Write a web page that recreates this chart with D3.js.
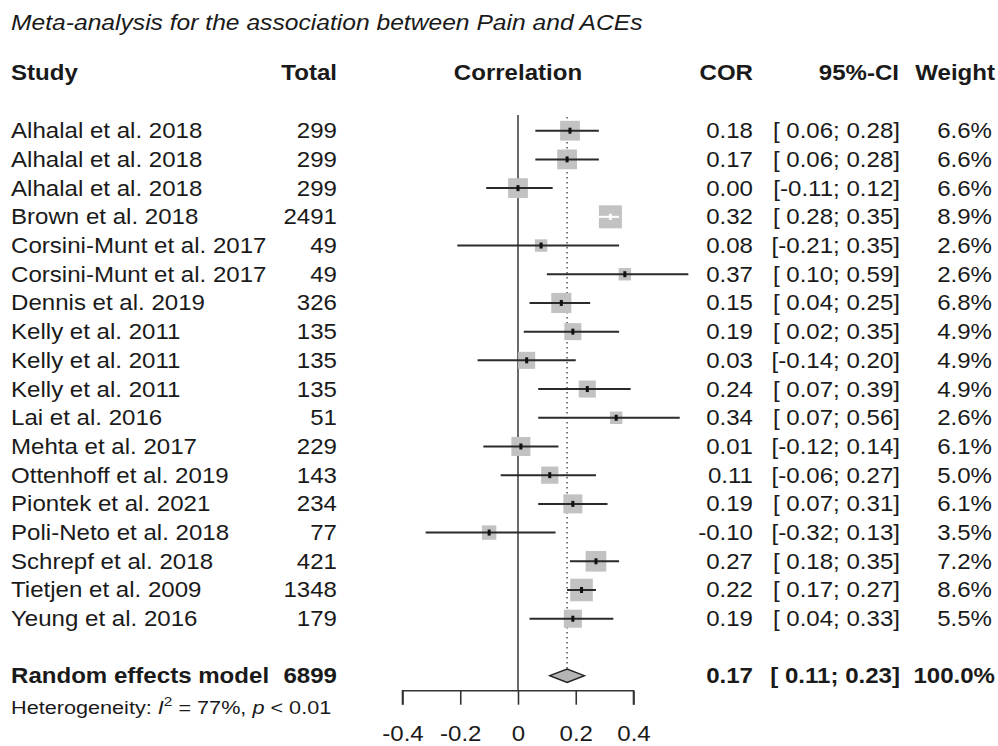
<!DOCTYPE html>
<html><head><meta charset="utf-8">
<script src="https://cdn.jsdelivr.net/npm/d3@7"></script>
<style>body{margin:0;background:#fff}svg{display:block}</style>
</head><body>
<svg id="c" width="998" height="746"></svg>
<script>
const studies = ["Alhalal et al. 2018","Alhalal et al. 2018","Alhalal et al. 2018","Brown et al. 2018","Corsini-Munt et al. 2017","Corsini-Munt et al. 2017","Dennis et al. 2019","Kelly et al. 2011","Kelly et al. 2011","Kelly et al. 2011","Lai et al. 2016","Mehta et al. 2017","Ottenhoff et al. 2019","Piontek et al. 2021","Poli-Neto et al. 2018","Schrepf et al. 2018","Tietjen et al. 2009","Yeung et al. 2016"];
const totals = [299,299,299,2491,49,49,326,135,135,135,51,229,143,234,77,421,1348,179];
const cor = [0.18,0.17,0.00,0.32,0.08,0.37,0.15,0.19,0.03,0.24,0.34,0.01,0.11,0.19,-0.10,0.27,0.22,0.19];
const lower = [0.06,0.06,-0.11,0.28,-0.21,0.10,0.04,0.02,-0.14,0.07,0.07,-0.12,-0.06,0.07,-0.32,0.18,0.17,0.04];
const upper = [0.28,0.28,0.12,0.35,0.35,0.59,0.25,0.35,0.20,0.39,0.56,0.14,0.27,0.31,0.13,0.35,0.27,0.33];
const weights = [6.6,6.6,6.6,8.9,2.6,2.6,6.8,4.9,4.9,4.9,2.6,6.1,5.0,6.1,3.5,7.2,8.6,5.5];
const pooled = {label:"Random effects model", total:6899, cor:0.17, lower:0.11, upper:0.23, weight:100.0};
const tickValues = [-0.4,-0.2,0,0.2,0.4];
const tickLabels = ["-0.4","-0.2","0","0.2","0.4"];
const title = "Meta-analysis for the association between Pain and ACEs";

const svg = d3.select("#c");
const FONT = "'Liberation Sans', Arial, Helvetica, sans-serif";
const FS = 21.5, SX = 1.12;
const x = d3.scaleLinear().domain([-0.4,0.4]).range([402.5,633.5]);
const y = d3.scaleLinear().domain([0,17]).range([130.7,618.7]);
const yPooled = 675.7, axisY = 690.7;

function txt(str, xx, yy, anchor, opts={}){
  return svg.append("text")
    .attr("transform",`translate(${xx},${yy}) scale(${opts.sx||SX},1)`)
    .attr("text-anchor",anchor)
    .attr("font-family",FONT)
    .attr("font-size",opts.fs||FS)
    .attr("fill",opts.fill||"#1a1a1a")
    .attr("font-weight",opts.bold?"bold":"normal")
    .attr("font-style",opts.italic?"italic":"normal")
    .text(str);
}
const f2 = v => v.toFixed(2);
const ci = (l,u) => "[" + (l<0?"":" ") + f2(l) + "; " + f2(u) + "]";

// title
txt(title, 11, 30, "start", {italic:true, fs:22});
// headers
const hy = 80;
txt("Study", 11, hy, "start", {bold:true});
txt("Total", 337, hy, "end", {bold:true});
txt("Correlation", 518, hy, "middle", {bold:true});
txt("COR", 753, hy, "end", {bold:true});
txt("95%-CI", 899, hy, "end", {bold:true});
txt("Weight", 995, hy, "end", {bold:true});

// zero line
svg.append("line").attr("x1",x(0)).attr("x2",x(0)).attr("y1",115).attr("y2",axisY)
  .attr("stroke","#444").attr("stroke-width",1.6);
// pooled dotted line
svg.append("line").attr("x1",x(pooled.cor)).attr("x2",x(pooled.cor)).attr("y1",117).attr("y2",yPooled-7)
  .attr("stroke","#555").attr("stroke-width",1.5).attr("stroke-dasharray","1.5,3.5");

// studies
const g = svg.append("g");
studies.forEach((s,i)=>{
  const yy = y(i);
  const side = 7.7*Math.sqrt(weights[i]);
  const cx = x(cor[i]);
  g.append("rect").attr("x",cx-side/2).attr("y",yy-side/2).attr("width",side).attr("height",side)
    .attr("fill","#c2c2c2");
  const inside = (x(lower[i]) >= cx-side/2-1) && (x(upper[i]) <= cx+side/2+1);
  g.append("line").attr("x1",x(lower[i])).attr("x2",x(upper[i])).attr("y1",yy).attr("y2",yy)
    .attr("stroke",inside?"#ffffff":"#2a2a2a").attr("stroke-width",2);
  g.append("rect").attr("x",cx-1.5).attr("y",yy-3).attr("width",3).attr("height",6)
    .attr("fill",inside?"#ffffff":"#111");
  const ty = yy+7.5;
  txt(s, 11, ty, "start");
  txt(String(totals[i]), 337, ty, "end");
  txt(f2(cor[i]), 753, ty, "end");
  txt(ci(lower[i],upper[i]), 900, ty, "end");
  txt(weights[i].toFixed(1)+"%", 992, ty, "end");
});

// pooled diamond
const dh = 6.7;
svg.append("path")
  .attr("d",`M${x(pooled.lower)},${yPooled} L${x(pooled.cor)},${yPooled-dh} L${x(pooled.upper)},${yPooled} L${x(pooled.cor)},${yPooled+dh} Z`)
  .attr("fill","#b4b4b4").attr("stroke","#222").attr("stroke-width",1.4);
const py = yPooled+7.5;
txt(pooled.label, 11, py, "start", {bold:true});
txt(String(pooled.total), 337, py, "end", {bold:true});
txt(f2(pooled.cor), 753, py, "end", {bold:true});
txt(ci(pooled.lower,pooled.upper), 900, py, "end", {bold:true});
txt(pooled.weight.toFixed(1)+"%", 995, py, "end", {bold:true});

// heterogeneity
const het = svg.append("text")
  .attr("transform",`translate(11,714) scale(1.14,1)`)
  .attr("font-family",FONT).attr("font-size",19).attr("fill","#1a1a1a");
het.append("tspan").text("Heterogeneity: ");
het.append("tspan").attr("font-style","italic").text("I");
het.append("tspan").attr("dy",-8).attr("font-size",13.5).text("2");
het.append("tspan").attr("dy",8).text(" = 77%, ");
het.append("tspan").attr("font-style","italic").text("p");
het.append("tspan").text(" < 0.01");

// axis
const axis = d3.axisBottom(x).tickValues(tickValues).tickSize(14).tickPadding(8)
  .tickFormat((d,i)=>tickLabels[i]);
const ag = svg.append("g").attr("transform",`translate(0,${axisY})`).call(axis);
ag.select(".domain").attr("d",`M${x(-0.4)},14V0H${x(0.4)}V14`).attr("stroke","#333").attr("stroke-width",1.6);
ag.selectAll(".tick line").attr("stroke","#333").attr("stroke-width",1.6);
ag.selectAll(".tick text").attr("font-family",FONT).attr("font-size",FS).attr("fill","#1a1a1a")
  .attr("y",null).attr("dy",null)
  .attr("transform",`translate(0,50) scale(${SX},1)`);
</script>
</body></html>
